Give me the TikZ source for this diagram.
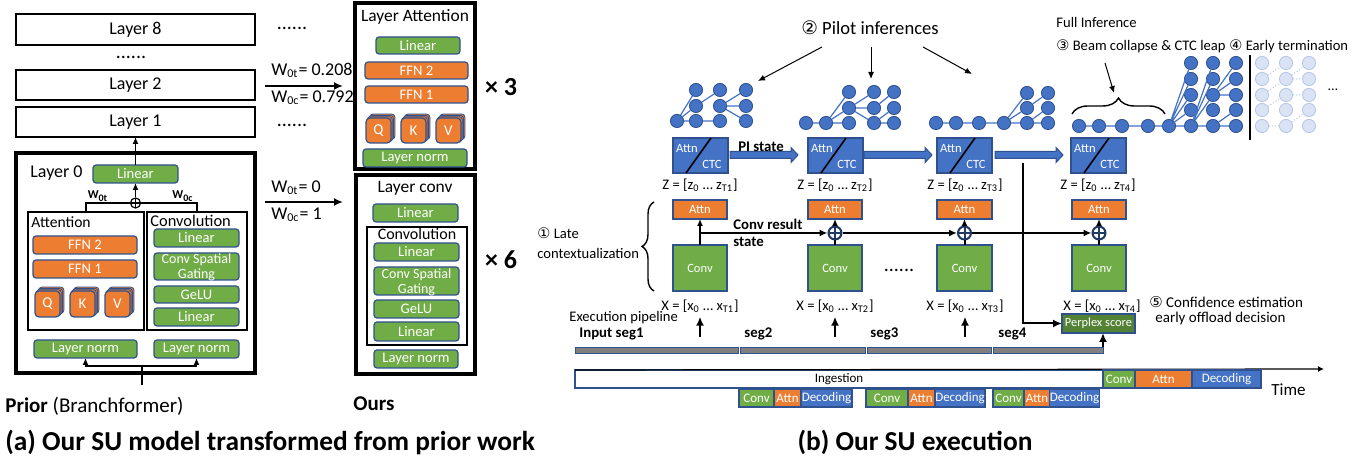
\documentclass[tikz,border=0pt]{standalone}
\usepackage{fontspec}
\setmainfont{Carlito}
\newfontfamily\symf{DejaVu Sans}
\usetikzlibrary{arrows.meta,decorations.pathreplacing,calc}
\definecolor{cb}{HTML}{4472C4}
\definecolor{co}{HTML}{ED7D31}
\definecolor{cg}{HTML}{70AD47}
\definecolor{cdg}{HTML}{548235}
\definecolor{bdr}{HTML}{2F528F}
\definecolor{cgr}{HTML}{7F7F7F}
\definecolor{cfa}{HTML}{DAE3F3}
\definecolor{cfb}{HTML}{B4C7E7}
\definecolor{cnav}{HTML}{1F3864}
\newcommand{\fsz}[1]{\fontsize{#1}{#1}\selectfont}
\newcommand{\mkbox}[7]{%
 \pgfmathsetmacro{\mkw}{abs(#5-#3)*0.5}%
 \pgfmathsetmacro{\mkh}{abs(#6-#4)*0.5}%
 \node[#2, minimum width=\mkw pt, minimum height=\mkh pt] (#1) at ({(#3+#5)/2},{(#4+#6)/2}) {#7};}
\newcommand{\qkv}[6]{%
 \foreach \k in {3,2,1}{\filldraw[fill=co, draw=bdr, line width=0.4pt, rounded corners=1.5pt] ({#2+\k*1.3},{#3-\k*1.3}) rectangle ({#4+\k*1.3},{#5-\k*1.3});}%
 \mkbox{#1}{ob, rounded corners=2pt, font=\fsz{7.5}}{#2}{#3}{#4}{#5}{#6}}
\newcommand{\trn}[4][tn]{\node[#1] (#2) at (#3,#4) {};}
\newcommand{\acbox}[2]{%
 \mkbox{#1}{sq, fill=cb}{#2}{138}{#2+55}{173}{}%
 \draw[line width=0.8pt] ([xshift=6.5pt]#1.south west) -- ([xshift=19pt]#1.north west);%
 \node[lbl, text=white, font=\fsz{6.3}] at ({#2+14},149) {Attn};%
 \node[lbl, text=white, font=\fsz{6.3}] at ({#2+39},164) {CTC};}
\newcommand{\barrow}[3]{\filldraw[fill=cb, draw=bdr, line width=0.5pt] ({#1},{#3-3.5}) -- ({#2-7},{#3-3.5}) -- ({#2-7},{#3-7.5}) -- ({#2},{#3}) -- ({#2-7},{#3+7.5}) -- ({#2-7},{#3+3.5}) -- ({#1},{#3+3.5}) -- cycle;}
\tikzset{
 bx/.style={draw=bdr, line width=0.6pt, rounded corners=1.5pt, inner sep=0pt, outer sep=0pt, text=white, font=\fsz{7.3}, align=center},
 gb/.style={bx, fill=cg}, ob/.style={bx, fill=co}, bb/.style={bx, fill=cb},
 sq/.style={bx, rounded corners=0pt, font=\fsz{6.3}},
 lay/.style={draw=black, line width=1.2pt, fill=white, inner sep=0pt, outer sep=0pt, font=\fsz{9}},
 bigbox/.style={draw=black, line width=1.6pt, fill=white, inner sep=0pt, outer sep=0pt},
 thinbox/.style={draw=black, line width=0.6pt, inner sep=0pt, outer sep=0pt},
 lbl/.style={inner sep=0pt, font=\fsz{9}},
 arr/.style={line width=0.7pt, -{Latex[length=3.5pt,width=3pt]}},
 arrT/.style={line width=1pt, -{Latex[length=4.5pt,width=4pt]}},
 arrB/.style={line width=1.1pt, -{Latex[length=4pt,width=3.5pt]}},
 arrP/.style={line width=0.5pt, -{Latex[length=3.5pt,width=3pt]}},
 oplusL/.style={circle, draw=black, fill=white, line width=0.6pt, minimum size=5pt, inner sep=0pt,
   path picture={\draw[line width=0.6pt] (path picture bounding box.north) -- (path picture bounding box.south) (path picture bounding box.west) -- (path picture bounding box.east);}},
 oplusR/.style={circle, draw=cnav, fill=white, line width=1pt, minimum size=6.5pt, inner sep=0pt,
   path picture={\draw[cnav, line width=1pt] (path picture bounding box.north) -- (path picture bounding box.south) (path picture bounding box.west) -- (path picture bounding box.east);}},
 tn/.style={circle, fill=cb, draw=bdr, line width=0.4pt, minimum size=6.6pt, inner sep=0pt},
 ftn/.style={circle, fill=cfa, draw=cfb, line width=0.4pt, minimum size=6.6pt, inner sep=0pt},
 te/.style={draw=cb, line width=0.6pt},
 fte/.style={draw=cfb, line width=0.5pt, densely dotted},
 gbar/.style={draw=bdr, fill=cgr, line width=0.4pt, inner sep=0pt, outer sep=0pt},
 tl/.style={draw=bdr, line width=0.6pt, inner sep=0pt, outer sep=0pt, font=\fsz{6.5}, text=white},
 rt/.style={inner sep=0pt, font=\fsz{7.3}},
}
\begin{document}
\begin{tikzpicture}[x=0.5pt,y=-0.5pt]
\useasboundingbox (0,0) rectangle (1362,458);
% ---------------- (a) left: prior
\mkbox{lay8}{lay}{16}{14}{255}{45}{Layer 8}
\node[lbl, font=\fsz{10}] (dotsA) at (131,57) {......};
\mkbox{lay2}{lay}{16}{70}{255}{100}{Layer 2}
\mkbox{lay1}{lay}{16}{107}{255}{137}{Layer 1}
\mkbox{L0}{bigbox}{16}{153}{255}{373}{}
\node[lbl, anchor=west] (L0t) at (30,173) {Layer 0};
\mkbox{lin0}{gb}{93}{165}{178}{183}{Linear}
\node[oplusL] (o0) at (135.5,203) {};
\node[lbl, font=\bfseries\fsz{6}] (w0t) at (98,196) {W\textsubscript{0t}};
\node[lbl, font=\bfseries\fsz{6}] (w0c) at (183,196) {W\textsubscript{0c}};
\mkbox{att}{thinbox}{28}{212}{144}{330}{}
\node[lbl, anchor=west, font=\fsz{7.8}] (attt) at (31,222) {Attention};
\mkbox{cnv}{thinbox}{147}{212}{247}{330}{}
\node[lbl, anchor=west, font=\fsz{8.2}] (cnvt) at (150,221) {Convolution};
\mkbox{ffn2}{ob}{33}{236}{137}{254}{FFN 2}
\mkbox{ffn1}{ob}{33}{260}{137}{278}{FFN 1}
\qkv{q0}{35}{291}{60}{317}{Q}
\qkv{k0}{70}{291}{95}{317}{K}
\qkv{v0}{105}{291}{130}{317}{V}
\mkbox{cl1}{gb}{154}{229}{239}{247}{Linear}
\mkbox{csg}{gb, font=\fsz{7}, text depth=0pt}{154}{253}{239}{280}{Conv Spatial\\[0.5pt]Gating}
\mkbox{gelu}{gb}{154}{286}{239}{303}{GeLU}
\mkbox{cl2}{gb}{154}{308}{239}{326}{Linear}
\mkbox{ln1}{gb}{34}{340}{137}{358}{Layer norm}
\mkbox{ln2}{gb}{154}{340}{239}{358}{Layer norm}
\coordinate (in0) at (142,385);
\coordinate (j0) at (142,366);
\draw[line width=0.6pt] (in0) -- (j0);
\draw[arr] (j0) -| (ln1.south);
\draw[arr] (j0) -| (ln2.south);
\draw[line width=0.6pt] (att.north) |- (o0.west);
\draw[line width=0.6pt] (cnv.north) |- (o0.east);
\draw[arr] (o0.north) -- (lin0.south);
\draw[arr] (lin0.north) -- (lay1.south);
% ---------------- (a) middle
\node[lbl, font=\fsz{10}] (dotsB) at (292,28) {......};
\node[lbl, anchor=west] (wa) at (271,70) {W\textsubscript{0t}= 0.208};
\coordinate (a1s) at (265,86); \coordinate (a1e) at (343,86);
\draw[arrT] (a1s) -- (a1e);
\node[lbl, anchor=west] (wb) at (271,98) {W\textsubscript{0c}= 0.792};
\node[lbl, font=\fsz{10}] (dotsC) at (292,125) {......};
\node[lbl, anchor=west] (wc) at (271,188) {W\textsubscript{0t}= 0};
\coordinate (a2s) at (265,202); \coordinate (a2e) at (343,202);
\draw[arrT] (a2s) -- (a2e);
\node[lbl, anchor=west] (wd) at (271,215) {W\textsubscript{0c}= 1};
% Layer Attention
\mkbox{LA}{bigbox}{355}{3}{475}{169}{}
\node[lbl, font=\fsz{8.7}] (LAt) at (415,17) {Layer Attention};
\mkbox{la1}{gb}{376}{37}{460}{54}{Linear}
\mkbox{la2}{ob}{365}{62}{468}{79}{FFN 2}
\mkbox{la3}{ob}{365}{86}{468}{103}{FFN 1}
\qkv{q1}{366}{118}{391}{143}{Q}
\qkv{k1}{401}{118}{426}{143}{K}
\qkv{v1}{436}{118}{461}{143}{V}
\mkbox{la4}{gb}{363}{149}{467}{167}{Layer norm}
\node[lbl, font=\bfseries\fsz{13}] (x3) at (501,87) {× 3};
% Layer conv
\mkbox{LC}{bigbox}{356}{175}{475}{374}{}
\node[lbl, font=\fsz{8.7}] (LCt) at (415,188) {Layer conv};
\mkbox{lc1}{gb}{373}{204}{458}{222}{Linear}
\mkbox{lcb}{thinbox}{367}{227}{467}{345}{}
\node[lbl, font=\fsz{8}] (lcbt) at (417,234) {Convolution};
\mkbox{lc2}{gb}{374}{243}{459}{261}{Linear}
\mkbox{lc3}{gb, font=\fsz{7}, text depth=0pt}{374}{267}{459}{295}{Conv Spatial\\[0.5pt]Gating}
\mkbox{lc4}{gb}{374}{300}{459}{318}{GeLU}
\mkbox{lc5}{gb}{374}{322}{459}{341}{Linear}
\mkbox{lc6}{gb}{374}{350}{458}{368}{Layer norm}
\node[lbl, font=\bfseries\fsz{13}] (x6) at (501,260) {× 6};
% captions
\node[lbl, anchor=west, font=\fsz{10.5}] (capP) at (5,406) {\textbf{Prior} (Branchformer)};
\node[lbl, font=\bfseries\fsz{10.5}] (capO) at (374,404) {Ours};
\node[lbl, anchor=west, font=\bfseries\fsz{13.7}] (capA) at (5,442) {(a) Our SU model transformed from prior work};
\node[lbl, font=\bfseries\fsz{13.7}] (capB) at (915,442) {(b) Our SU execution};
% ---------------- (b) trees
\trn{a0}{677}{121}
\foreach \c/\x in {1/696,2/720,3/746}{\foreach \r/\y in {1/90,2/106,3/121}{\trn{a\c\r}{\x}{\y}}}
\draw[te] (a0)--(a11) (a0)--(a12) (a0)--(a13) (a12)--(a21) (a13)--(a23) (a22)--(a31) (a22)--(a32) (a22)--(a33);
\trn{b01}{806}{123}\trn{b02}{826}{123}
\foreach \c/\x in {1/849,2/874,3/894}{\foreach \r/\y in {1/92,2/108,3/123}{\trn{b\c\r}{\x}{\y}}}
\draw[te] (b01)--(b02) (b02)--(b11) (b02)--(b12) (b02)--(b13) (b12)--(b21) (b12)--(b22) (b12)--(b23) (b22)--(b31) (b23)--(b32) (b23)--(b33);
\trn{c01}{936}{123}\trn{c02}{956}{123}\trn{c03}{979}{123}\trn{c04}{1004}{123}
\foreach \c/\x in {1/1027,2/1048}{\foreach \r/\y in {1/93,2/108,3/123}{\trn{c\c\r}{\x}{\y}}}
\draw[te] (c01)--(c02)--(c03)--(c04) (c04)--(c11) (c04)--(c12) (c04)--(c13) (c12)--(c21) (c13)--(c22) (c13)--(c23);
\trn{d01}{1079}{126}\trn{d02}{1099}{126}\trn{d03}{1122}{126}\trn{d04}{1148}{126}\trn{d05}{1169}{126}
\foreach \c/\x in {1/1191,2/1213,3/1236}{\foreach \r/\y in {1/63,2/79,3/95,4/110,5/126}{\trn{d\c\r}{\x}{\y}}}
\draw[te] (d01)--(d02)--(d03)--(d04)--(d05) (d05)--(d11) (d05)--(d12) (d05)--(d13) (d05)--(d14) (d05)--(d15)
 (d15)--(d21) (d15)--(d22) (d15)--(d23) (d15)--(d25) (d23)--(d31) (d23)--(d32) (d23)--(d33) (d25)--(d34) (d25)--(d35);
\foreach \c/\x in {1/1262,2/1286,3/1309}{\foreach \r/\y in {1/63,2/79,3/95,4/110,5/126}{\trn[ftn]{f\c\r}{\x}{\y}}}
\draw[fte] (f15)--(f25) (f12)--(f21) (f13)--(f22) (f14)--(f23) (f22)--(f31) (f23)--(f33) (f25)--(f34) (f22)--(f32);
\coordinate (vb1) at (1250,55); \coordinate (vb2) at (1250,140);
\draw[line width=0.9pt] (vb1) -- (vb2);
\node[lbl, font=\fsz{7}] (more) at (1333,90) {…};
% labels above
\node[lbl, font=\fsz{9.3}] (pi) at (870,28) {{\symf ②} Pilot inferences};
\coordinate (p1s) at (822,47); \coordinate (p1e) at (758,81);
\coordinate (p2s) at (871,47); \coordinate (p2e) at (871,79);
\coordinate (p3s) at (923,47); \coordinate (p3e) at (972,74);
\draw[arrP] (p1s) -- (p1e); \draw[arrP] (p2s) -- (p2e); \draw[arrP] (p3s) -- (p3e);
\node[rt, anchor=west] (fi) at (1056,22) {Full Inference};
\node[rt, anchor=west] (bc) at (1056,46) {{\symf ③} Beam collapse \& CTC leap};
\node[rt, anchor=west] (et) at (1229,46) {{\symf ④} Early termination};
\coordinate (f1s) at (1105,63); \coordinate (f1e) at (1114,93);
\draw[arrP] (f1s) -- (f1e);
\draw[line width=0.7pt, decorate, decoration={brace, amplitude=8pt}] (1072,114) -- (1165,114);
% Attn/CTC boxes
\acbox{ac1}{673}
\acbox{ac2}{808}
\acbox{ac3}{937}
\acbox{ac4}{1071}
\barrow{730}{798}{155}
\barrow{864}{932}{155}
\barrow{995}{1063}{155}
\node[lbl, font=\bfseries\fsz{7.4}] (pis) at (761,147) {PI state};
\node[rt] (z1) at (700,185) {Z = [z\textsubscript{0} … z\textsubscript{T1}]};
\node[rt] (z2) at (835,185) {Z = [z\textsubscript{0} … z\textsubscript{T2}]};
\node[rt] (z3) at (965,185) {Z = [z\textsubscript{0} … z\textsubscript{T3}]};
\node[rt] (z4) at (1098,185) {Z = [z\textsubscript{0} … z\textsubscript{T4}]};
% Attn / Conv
\mkbox{at1}{sq, fill=co}{673}{200}{727}{219}{Attn}
\mkbox{at2}{sq, fill=co}{808}{200}{862}{219}{Attn}
\mkbox{at3}{sq, fill=co}{937}{200}{992}{219}{Attn}
\mkbox{at4}{sq, fill=co}{1072}{200}{1126}{219}{Attn}
\mkbox{cv1}{sq, fill=cg}{673}{245}{727}{291}{Conv}
\mkbox{cv2}{sq, fill=cg}{808}{245}{862}{291}{Conv}
\mkbox{cv3}{sq, fill=cg}{937}{245}{992}{291}{Conv}
\mkbox{cv4}{sq, fill=cg}{1072}{245}{1126}{291}{Conv}
\node[oplusR] (o2) at (835,233) {};
\node[oplusR] (o3) at (964.5,233) {};
\node[oplusR] (o4) at (1099,233) {};
\coordinate (j1) at (700,233);
\draw[arr, line width=1pt] (cv1.north) -- (at1.south);
\draw[arrB] (j1) -- (o2.west);
\draw[arrB] (o2.east) -- (o3.west);
\draw[arrB] (o3.east) -- (o4.west);
\draw[line width=1pt] (cv2.north) -- (o2.south);
\draw[line width=1pt] (cv3.north) -- (o3.south);
\draw[line width=1pt] (cv4.north) -- (o4.south);
\draw[arr, line width=1pt] (o2.north) -- (at2.south);
\draw[arr, line width=1pt] (o3.north) -- (at3.south);
\draw[arr, line width=1pt] (o4.north) -- (at4.south);
\node[lbl, anchor=west, font=\bfseries\fsz{7.4}] (crs) at (733,224) {Conv result};
\node[lbl, anchor=west, font=\bfseries\fsz{7.4}] (crs2) at (733,242) {state};
\node[lbl, font=\fsz{10}] (dotsD) at (899,270) {......};
\draw[line width=0.7pt, decorate, decoration={brace, amplitude=6pt}] (654,291) -- (654,202);
\node[rt, anchor=west] (lc) at (537,233) {{\symf ①} Late};
\node[rt, anchor=west] (lc2) at (537,253) {contextualization};
% X labels
\node[rt] (x1) at (700,306) {X = [x\textsubscript{0} … x\textsubscript{T1}]};
\node[rt] (x2) at (835,306) {X = [x\textsubscript{0} … x\textsubscript{T2}]};
\node[rt] (xx3) at (965,306) {X = [x\textsubscript{0} … x\textsubscript{T3}]};
\node[rt] (x4) at (1102,306) {X = [x\textsubscript{0} … x\textsubscript{T4}]};
\node[rt, anchor=west] (ep) at (569,318) {Execution pipeline};
\node[lbl, anchor=west, font=\bfseries\fsz{7.4}] (s1) at (579,334) {Input seg1};
\node[lbl, anchor=west, font=\bfseries\fsz{7.4}] (s2) at (744,334) {seg2};
\node[lbl, anchor=west, font=\bfseries\fsz{7.4}] (s3) at (870,334) {seg3};
\node[lbl, anchor=west, font=\bfseries\fsz{7.4}] (s4) at (998,334) {seg4};
\coordinate (u1) at (700,337); \coordinate (u2) at (835,337); \coordinate (u3) at (965,337);
\draw[arrT, shorten >=2pt] (u1) -- (x1.south);
\draw[arrT, shorten >=2pt] (u2) -- (x2.south);
\draw[arrT, shorten >=2pt] (u3) -- (xx3.south);
\mkbox{sg1}{gbar}{575}{347}{738}{353}{}
\mkbox{sg2}{gbar}{740}{347}{865}{353}{}
\mkbox{sg3}{gbar}{867}{347}{991}{353}{}
\mkbox{sg4}{gbar}{993}{347}{1103}{353}{}
\mkbox{ps}{sq, fill=cdg, font=\fsz{6.2}}{1062}{314}{1135}{333}{Perplex score}
\draw[arrT] (sg4.north east) -- (sg4.north east |- ps.south);
\coordinate (vl) at (1023,163);
\draw[arrT] (vl) |- (ps.west);
\node[lbl, anchor=west, font=\fsz{7.5}] (ce) at (1149,302) {{\symf ⑤} Confidence estimation};
\node[lbl, anchor=west, font=\fsz{7.5}] (ce2) at (1155,319) {early offload decision};
% timeline
\mkbox{ing}{tl, fill=white, text=black}{575}{370}{1103}{388}{Ingestion}
\coordinate (tend) at (1324,369);
\draw[line width=0.6pt, -{Latex[length=3pt,width=3pt]}] (ing.north west) -- (tend);
\mkbox{tc}{tl, fill=cg}{1103}{370}{1135}{388}{Conv}
\mkbox{ta}{tl, fill=co}{1135}{370}{1192}{388}{Attn}
\mkbox{td}{tl, fill=cb}{1192}{370}{1261}{388}{Decoding}
\node[lbl, anchor=west, font=\fsz{8.5}] (time) at (1271,390) {Time};
\mkbox{g1c}{tl, fill=cg}{739}{389}{774}{407}{Conv}
\mkbox{g1a}{tl, fill=co}{774}{389}{801}{407}{Attn}
\mkbox{g1d}{tl, fill=cb}{801}{389}{852}{407}{Decoding}
\mkbox{g2c}{tl, fill=cg}{866}{389}{908}{407}{Conv}
\mkbox{g2a}{tl, fill=co}{908}{389}{935}{407}{Attn}
\mkbox{g2d}{tl, fill=cb}{935}{389}{985}{407}{Decoding}
\mkbox{g3c}{tl, fill=cg}{993}{389}{1024}{407}{Conv}
\mkbox{g3a}{tl, fill=co}{1024}{389}{1050}{407}{Attn}
\mkbox{g3d}{tl, fill=cb}{1050}{389}{1099}{407}{Decoding}
\end{tikzpicture}
\end{document}
